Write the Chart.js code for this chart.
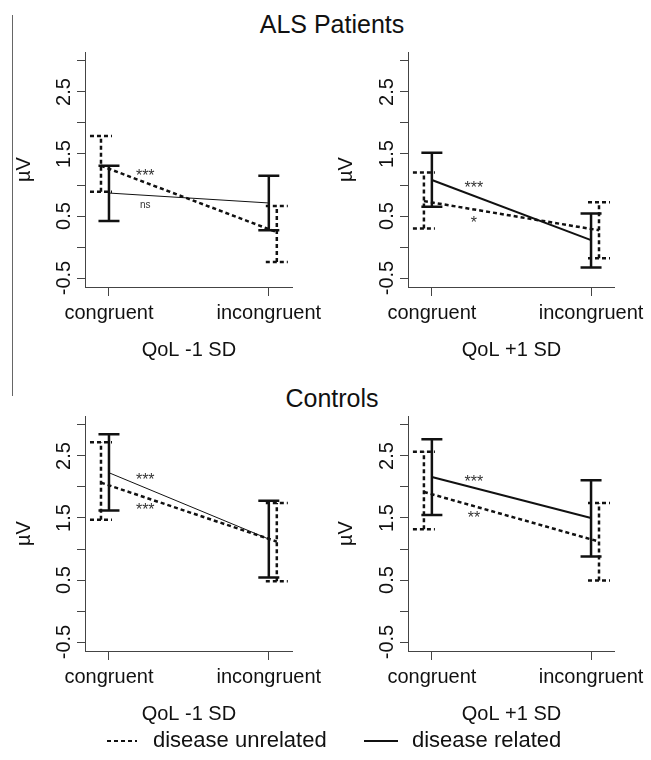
<!DOCTYPE html>
<html>
<head>
<meta charset="utf-8">
<script src="https://cdn.jsdelivr.net/npm/chart.js@4.4.1/dist/chart.umd.min.js"></script>
<style>
    body { margin: 0; background: #fff; font-family: "Liberation Sans", Arial, sans-serif; }
    #page { position: relative; width: 651px; height: 760px; background: #fff; overflow: hidden; }
    .title { position: absolute; left: 0; width: 664px; text-align: center; font-size: 25px; line-height: 25px; color: #111; }
    .panel { position: absolute; }
    #sideLine { position: absolute; left: 12px; top: 15px; width: 1px; height: 381px; background: #666; }
    #legend { position: absolute; left: 0; top: 729px; width: 651px; height: 30px; font-size: 22px; line-height: 22px; color: #111; }
    #legend span { position: absolute; top: 0; }
    #legend svg { position: absolute; top: 9px; }
</style>
</head>
<body>
<div id="page">
    <div id="sideLine"></div>
    <div class="title" style="top:12px">ALS Patients</div>
    <div class="title" style="top:386px">Controls</div>
    <canvas id="chart0" class="panel" width="330" height="330" style="left:0;top:40px"></canvas>
    <canvas id="chart1" class="panel" width="330" height="330" style="left:322px;top:40px"></canvas>
    <canvas id="chart2" class="panel" width="330" height="330" style="left:0;top:404px"></canvas>
    <canvas id="chart3" class="panel" width="330" height="330" style="left:322px;top:404px"></canvas>
    <div id="legend">
        <svg width="32" height="6" style="left:105px"><line x1="2" y1="3" x2="32" y2="3" stroke="#111" stroke-width="2" stroke-dasharray="4 3"/></svg>
        <span style="left:153px">disease unrelated</span>
        <svg width="34" height="6" style="left:364px"><line x1="0" y1="3" x2="34" y2="3" stroke="#111" stroke-width="2"/></svg>
        <span style="left:412px">disease related</span>
    </div>
</div>
<script>
// data
const categories = ['congruent', 'incongruent'];
const panelLabels = ['QoL -1 SD', 'QoL +1 SD', 'QoL -1 SD', 'QoL +1 SD'];
const xUnrelated = [0.95, 2.05];
const xRelated = [1, 2];
const yTicks = [-0.5, 0, 0.5, 1, 1.5, 2, 2.5, 3];
const yTickLabels = ['-0.5', '', '0.5', '', '1.5', '', '2.5', ''];

// disease unrelated (dashed)
const unrelatedMean = [[1.31, 0.24], [0.74, 0.27], [2.07, 1.12], [1.92, 1.12]];
const unrelatedLow = [[0.89, -0.24], [0.30, -0.18], [1.47, 0.48], [1.32, 0.49]];
const unrelatedHigh = [[1.79, 0.66], [1.20, 0.72], [2.72, 1.74], [2.57, 1.74]];

// disease related (solid)
const relatedMean = [[0.87, 0.71], [1.08, 0.11], [2.23, 1.16], [2.16, 1.50]];
const relatedLow = [[0.42, 0.27], [0.65, -0.33], [1.62, 0.54], [1.55, 0.88]];
const relatedHigh = [[1.31, 1.15], [1.52, 0.54], [2.85, 1.78], [2.77, 2.11]];

// significance marks: text, x, y
const marks = [
    [['***', 1.227, 1.19], ['ns', 1.227, 0.68]],
    [['***', 1.264, 1.00], ['*', 1.264, 0.44]],
    [['***', 1.227, 2.16], ['***', 1.227, 1.68]],
    [['***', 1.264, 2.13], ['**', 1.264, 1.55]]
];

// per panel styles
const relatedWidth = [1, 2, 1, 2];
const yAxisWidth = [85, 86, 85, 86];
const rightPad = [34, 32, 34, 32];

const FONT = '"Liberation Sans", Arial, sans-serif';
const INK = '#111';
Chart.defaults.font.family = FONT;
Chart.defaults.color = INK;

// error bars, rotated y labels and marks
const extras = {
    id: 'extras',
    afterDatasetsDraw(chart, args, opts) {
        const ctx = chart.ctx;
        const xs = chart.scales.x;
        const ys = chart.scales.y;
        const p = opts.panel;

        function bars(xv, lo, hi, dashed, half) {
            ctx.save();
            ctx.strokeStyle = INK;
            ctx.lineWidth = 2.5;
            ctx.setLineDash(dashed ? [4, 3] : []);
            for (let i = 0; i < xv.length; i++) {
                const px = xs.getPixelForValue(xv[i]);
                const pl = ys.getPixelForValue(lo[i]);
                const ph = ys.getPixelForValue(hi[i]);
                ctx.beginPath();
                ctx.moveTo(px, pl); ctx.lineTo(px, ph);
                ctx.moveTo(px - half, ph); ctx.lineTo(px + half, ph);
                ctx.moveTo(px - half, pl); ctx.lineTo(px + half, pl);
                ctx.stroke();
            }
            ctx.restore();
        }
        bars(xUnrelated, unrelatedLow[p], unrelatedHigh[p], true, 11);
        bars(xRelated, relatedLow[p], relatedHigh[p], false, 10.5);

        // y tick labels, parallel to the axis
        ctx.save();
        ctx.fillStyle = INK;
        ctx.font = '20px ' + FONT;
        ctx.textAlign = 'center';
        ctx.textBaseline = 'alphabetic';
        yTicks.forEach(function (v, i) {
            if (!yTickLabels[i]) return;
            ctx.save();
            ctx.translate(ys.right - 15, ys.getPixelForValue(v));
            ctx.rotate(-Math.PI / 2);
            ctx.fillText(yTickLabels[i], 0, 0);
            ctx.restore();
        });
        ctx.restore();

        // significance marks
        ctx.save();
        ctx.fillStyle = '#333';
        ctx.textAlign = 'center';
        ctx.textBaseline = 'middle';
        marks[p].forEach(function (m) {
            const star = m[0].charAt(0) === '*';
            const size = star ? 16 : 10;
            ctx.font = size + 'px ' + FONT;
            const px = xs.getPixelForValue(m[1]);
            const py = ys.getPixelForValue(m[2]) + (star ? size * 0.22 : 0);
            ctx.fillText(m[0], px, py);
        });
        ctx.restore();
    }
};

function makePanel(p) {
    // setup
    const data = {
        datasets: [{
            label: 'disease unrelated',
            data: xUnrelated.map((x, i) => ({ x: x, y: unrelatedMean[p][i] })),
            showLine: true,
            borderColor: INK,
            borderWidth: 2.5,
            borderDash: [4, 3],
            pointRadius: 0
        }, {
            label: 'disease related',
            data: xRelated.map((x, i) => ({ x: x, y: relatedMean[p][i] })),
            showLine: true,
            borderColor: INK,
            borderWidth: relatedWidth[p],
            pointRadius: 0
        }]
    };

    // config
    const config = {
        type: 'scatter',
        data,
        options: {
            responsive: false,
            animation: false,
            devicePixelRatio: 1,
            layout: { padding: { top: 12, right: rightPad[p], bottom: 0, left: 0 } },
            plugins: {
                legend: { display: false },
                tooltip: { enabled: false },
                extras: { panel: p }
            },
            scales: {
                x: {
                    type: 'linear',
                    min: 0.85,
                    max: 2.15,
                    afterBuildTicks: function (scale) {
                        scale.ticks = xRelated.map(v => ({ value: v }));
                    },
                    afterFit: function (scale) { scale.height = 83; },
                    ticks: {
                        font: { size: 20 },
                        color: INK,
                        padding: 5,
                        maxRotation: 0,
                        callback: function (v) { return categories[Math.round(v) - 1]; }
                    },
                    grid: { drawOnChartArea: false, tickLength: 9, color: '#444', lineWidth: 1 },
                    border: { color: '#444', width: 1 },
                    title: {
                        display: true,
                        text: panelLabels[p],
                        font: { size: 20 },
                        color: INK,
                        padding: { top: 0, bottom: 8 }
                    }
                },
                y: {
                    min: -0.645,
                    max: 3.145,
                    afterBuildTicks: function (scale) {
                        scale.ticks = yTicks.map(v => ({ value: v }));
                    },
                    afterFit: function (scale) { scale.width = yAxisWidth[p]; },
                    ticks: { display: false },
                    grid: { drawOnChartArea: false, tickLength: 8, color: '#444', lineWidth: 1 },
                    border: { color: '#444', width: 1 },
                    title: {
                        display: true,
                        text: 'µV',
                        font: { size: 20 },
                        color: INK,
                        padding: { top: 12, bottom: 0 }
                    }
                }
            }
        },
        plugins: [extras]
    };

    // render init block
    return new Chart(document.getElementById('chart' + p), config);
}

const charts = [0, 1, 2, 3].map(makePanel);
</script>
</body>
</html>
